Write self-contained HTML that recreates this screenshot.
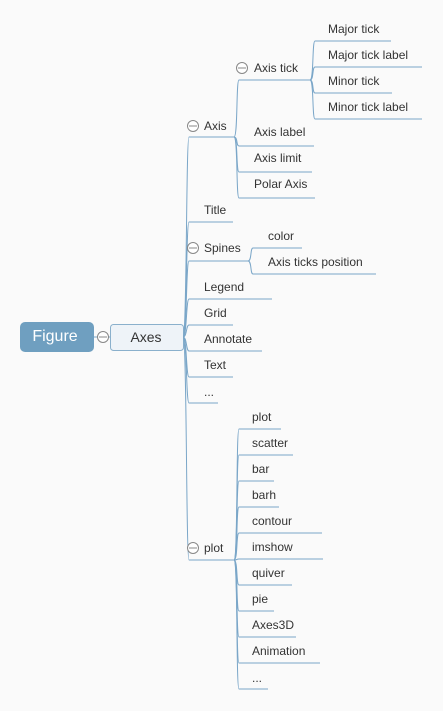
<!DOCTYPE html>
<html><head><meta charset="utf-8"><style>
html,body{margin:0;padding:0;background:#fafafa;}
svg{display:block;}
text{font-family:"Liberation Sans",Arial,sans-serif;font-size:12px;fill:#333;}
.l{fill:none;stroke:#7aa6c8;stroke-width:1;}
.c{fill:#fff;stroke:#888;stroke-width:1;}
</style></head><body>
<svg width="443" height="711" viewBox="0 0 443 711" xmlns="http://www.w3.org/2000/svg">
<rect x="20" y="322" width="74" height="30" rx="5" fill="#6f9fc0"/>
<text x="55" y="341" text-anchor="middle" style="font-size:16px;fill:#fff">Figure</text>
<line x1="94" y1="337" x2="110" y2="337" class="l"/>
<circle cx="103" cy="337" r="5.5" class="c"/><line x1="99" y1="337" x2="107" y2="337" stroke="#888"/>
<rect x="110.5" y="324.5" width="73" height="26" rx="3" fill="#eef3f8" stroke="#8ab0cc"/>
<text x="146" y="342" text-anchor="middle" style="font-size:14px">Axes</text>

<g class="l">
<!-- main children from (183,337) -->
<path d="M183 337 C187 337 186 137 189 137 H234"/>
<path d="M183 337 C187 337 186 222 189 222 H233"/>
<path d="M183 337 C187 337 186 261 189 261 H248"/>
<path d="M183 337 C187 337 186 299 189 299 H272"/>
<path d="M183 337 C187 337 186 325 189 325 H233"/>
<path d="M183 337 C187 337 186 351 189 351 H262"/>
<path d="M183 337 C187 337 186 377 189 377 H233"/>
<path d="M183 337 C187 337 186 403 189 403 H218"/>
<path d="M183 337 C187 337 186 560 189 560 H234"/>
<!-- Axis children from (234,137) -->
<path d="M234 137 C238 137 236 80 239 80 H310"/>
<path d="M234 137 C238 137 236 146 239 146 H314"/>
<path d="M234 137 C238 137 236 172 239 172 H312"/>
<path d="M234 137 C238 137 236 198 239 198 H315"/>
<!-- Axis tick children from (310,80) -->
<path d="M310 80 C314 80 312 41 315 41 H391"/>
<path d="M310 80 C314 80 312 67 315 67 H422"/>
<path d="M310 80 C314 80 312 93 315 93 H392"/>
<path d="M310 80 C314 80 312 119 315 119 H422"/>
<!-- Spines children from (248,261) -->
<path d="M248 261 C252 261 250 248 253 248 H302"/>
<path d="M248 261 C252 261 250 274 253 274 H376"/>
<!-- plot children from (234,560) -->
<path d="M234 560 C238 560 236 429 239 429 H281"/>
<path d="M234 560 C238 560 236 455 239 455 H293"/>
<path d="M234 560 C238 560 236 481 239 481 H274"/>
<path d="M234 560 C238 560 236 507 239 507 H279"/>
<path d="M234 560 C238 560 236 533 239 533 H322"/>
<path d="M234 560 C238 560 236 559 239 559 H323"/>
<path d="M234 560 C238 560 236 585 239 585 H292"/>
<path d="M234 560 C238 560 236 611 239 611 H274"/>
<path d="M234 560 C238 560 236 637 239 637 H296"/>
<path d="M234 560 C238 560 236 663 239 663 H320"/>
<path d="M234 560 C238 560 236 689 239 689 H268"/>
</g>

<g>
<circle cx="193" cy="126" r="5.5" class="c"/><line x1="189" y1="126" x2="197" y2="126" stroke="#888"/>
<circle cx="242" cy="68" r="5.5" class="c"/><line x1="238" y1="68" x2="246" y2="68" stroke="#888"/>
<circle cx="193" cy="248" r="5.5" class="c"/><line x1="189" y1="248" x2="197" y2="248" stroke="#888"/>
<circle cx="193" cy="548" r="5.5" class="c"/><line x1="189" y1="548" x2="197" y2="548" stroke="#888"/>
</g>

<text x="204" y="130">Axis</text>
<text x="254" y="72">Axis tick</text>
<text x="328" y="33">Major tick</text>
<text x="328" y="59">Major tick label</text>
<text x="328" y="85">Minor tick</text>
<text x="328" y="111">Minor tick label</text>
<text x="254" y="136">Axis label</text>
<text x="254" y="162">Axis limit</text>
<text x="254" y="188">Polar Axis</text>
<text x="204" y="214">Title</text>
<text x="204" y="252">Spines</text>
<text x="268" y="240">color</text>
<text x="268" y="266">Axis ticks position</text>
<text x="204" y="291">Legend</text>
<text x="204" y="317">Grid</text>
<text x="204" y="343">Annotate</text>
<text x="204" y="369">Text</text>
<text x="204" y="396">...</text>
<text x="204" y="552">plot</text>
<text x="252" y="421">plot</text>
<text x="252" y="447">scatter</text>
<text x="252" y="473">bar</text>
<text x="252" y="499">barh</text>
<text x="252" y="525">contour</text>
<text x="252" y="551">imshow</text>
<text x="252" y="577">quiver</text>
<text x="252" y="603">pie</text>
<text x="252" y="629">Axes3D</text>
<text x="252" y="655">Animation</text>
<text x="252" y="682">...</text>
</svg>
</body></html>
